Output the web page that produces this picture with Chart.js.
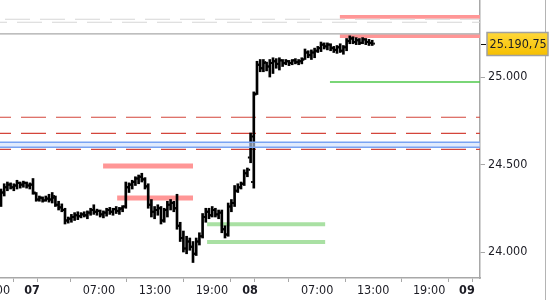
<!DOCTYPE html>
<html>
<head>
<meta charset="utf-8">
<title>Price chart</title>
<script src="https://cdn.jsdelivr.net/npm/chart.js@4.4.1/dist/chart.umd.min.js"></script>
<style>
    html, body { margin: 0; padding: 0; background: #fff; overflow: hidden; }
    #wrap { position: relative; width: 550px; height: 300px; overflow: hidden; }
    #chartBox { position: absolute; left: -20px; top: 0; width: 570px; height: 300px; }
</style>
</head>
<body>
<div id="wrap">
    <div id="chartBox"><canvas id="priceChart" width="570" height="300"></canvas></div>
</div>
<script>
// 20-minute OHLC bars, one per slot (slot index = position on the x axis)
const barOpen = [
    24280, 24340, 24370, 24385, 24370, 24380, 24395, 24385, 24395, 24380,
    24385, 24335, 24300, 24310, 24295, 24305, 24300, 24310, 24270, 24255,
    24240, 24180, 24190, 24200, 24210, 24205, 24215, 24210, 24225, 24240,
    24230, 24235, 24215, 24225, 24240, 24230, 24245, 24235, 24245, 24260,
    24370, 24385, 24400, 24420, 24430, 24415, 24375, 24270, 24230, 24240,
    24250, 24180, 24240, 24270, 24280, 24250, 24150, 24080, 24020, 24060,
    24030, 23990, 24060, 24090, 24200, 24230, 24210, 24240, 24215, 24225,
    24130, 24100, 24260, 24280, 24350, 24370, 24390, 24450, 24540, 24400,
    24905, 25070, 25050, 25080, 25060, 25080, 25090, 25075, 25095, 25080,
    25090, 25080, 25095, 25085, 25090, 25100, 25140, 25125, 25140, 25150,
    25165, 25185, 25175, 25185, 25165, 25155, 25170, 25150, 25170, 25205,
    25220, 25200, 25210, 25195, 25215, 25200, 25195
];
const barHigh = [
    24360, 24390, 24400, 24395, 24390, 24410, 24400, 24405, 24400, 24395,
    24420, 24340, 24320, 24315, 24320, 24330, 24340, 24320, 24290, 24275,
    24250, 24200, 24215, 24225, 24230, 24225, 24230, 24235, 24250, 24270,
    24245, 24240, 24235, 24250, 24255, 24250, 24260, 24255, 24265, 24400,
    24395, 24410, 24430, 24440, 24450, 24425, 24390, 24300, 24260, 24270,
    24260, 24250, 24290, 24300, 24290, 24330, 24170, 24120, 24090, 24080,
    24060, 24080, 24110, 24220, 24250, 24250, 24260, 24250, 24240, 24240,
    24150, 24280, 24300, 24380, 24390, 24400, 24470, 24480, 24680, 24915,
    25090, 25100, 25100, 25085, 25100, 25110, 25105, 25110, 25100, 25100,
    25095, 25100, 25105, 25100, 25110, 25160, 25150, 25155, 25165, 25175,
    25200, 25195, 25195, 25190, 25175, 25180, 25190, 25180, 25220, 25235,
    25230, 25225, 25220, 25225, 25220, 25215, 25210
];
const barLow = [
    24260, 24320, 24350, 24360, 24350, 24360, 24365, 24370, 24365, 24360,
    24330, 24290, 24290, 24285, 24290, 24285, 24280, 24260, 24240, 24230,
    24160, 24165, 24170, 24180, 24185, 24195, 24200, 24190, 24210, 24215,
    24210, 24200, 24195, 24205, 24215, 24210, 24220, 24215, 24230, 24250,
    24340, 24360, 24380, 24390, 24400, 24360, 24250, 24200, 24190, 24210,
    24160, 24170, 24200, 24240, 24230, 24130, 24060, 24000, 23990, 24010,
    23940, 23980, 24040, 24080, 24170, 24190, 24200, 24200, 24190, 24110,
    24080, 24090, 24230, 24260, 24340, 24360, 24380, 24430, 24510, 24365,
    24900, 25030, 25030, 25035, 25000, 25020, 25050, 25040, 25060, 25070,
    25065, 25070, 25075, 25070, 25075, 25100, 25110, 25100, 25110, 25140,
    25145, 25160, 25155, 25150, 25140, 25135, 25140, 25130, 25150, 25190,
    25190, 25185, 25185, 25190, 25185, 25180, 25180
];
const barClose = [
    24340, 24370, 24385, 24370, 24380, 24395, 24385, 24395, 24380, 24385,
    24340, 24300, 24310, 24295, 24305, 24300, 24320, 24270, 24255, 24240,
    24180, 24190, 24200, 24210, 24205, 24215, 24210, 24225, 24240, 24230,
    24235, 24215, 24225, 24240, 24230, 24245, 24235, 24250, 24260, 24370,
    24385, 24400, 24420, 24430, 24415, 24375, 24270, 24230, 24240, 24250,
    24180, 24240, 24270, 24280, 24250, 24150, 24080, 24020, 24060, 24030,
    23990, 24060, 24090, 24200, 24230, 24210, 24240, 24215, 24225, 24130,
    24100, 24260, 24280, 24350, 24370, 24390, 24450, 24470, 24660, 24900,
    25070, 25050, 25085, 25060, 25080, 25090, 25075, 25095, 25080, 25090,
    25080, 25095, 25085, 25090, 25100, 25140, 25125, 25140, 25150, 25165,
    25185, 25175, 25185, 25165, 25155, 25170, 25150, 25170, 25205, 25220,
    25200, 25210, 25195, 25215, 25200, 25195, 25190.75
];

// x axis (in slots)
const xMin = -6.5625;
const xMax = 149.6875;
const xTickPositions = [-2.2, 9.7, 12.8, 30.6, 48.1, 65.9, 77.8, 80.6, 98.8, 116.3, 133.8, 145.6, 148.8];
const xTickLabels = ['19:00', '07', '', '07:00', '13:00', '19:00', '08', '', '07:00', '13:00', '19:00', '09', ''];
const xTickBold = [false, true, false, false, false, false, true, false, false, false, false, true, false];

// y axis
const yMin = 23851.5;
const yMax = 25440;
const yTickValues = [24000, 24500, 25000];

// horizontal levels
const grayDashLevels = [25330, 25313];
const grayDashOffsets = [10, 33];
const grayLineLevel = 25246;
const redDashLevels = [24770, 24678, 24587];
const blueLevels = [24627, 24598];
const pinkLevels = [25344, 25234, 24491, 24309];
const pinkStart = [105.9, 105.9, 31.9, 36.3];
const pinkEnd = [xMax, xMax, 60, 60];
const greenZoneLevels = [24158, 24057];
const greenZoneStart = [64.4, 64.4];
const greenZoneEnd = [101.3, 101.3];
const greenLineLevel = 24971;
const greenLineStart = 102.8;

const fontFamily = '"DejaVu Sans Condensed", "Liberation Sans", sans-serif';
const textColor = '#1c1c24';
const axisColor = '#a8a8a8';

function formatDe(value, decimals) {
    const parts = value.toFixed(decimals).split('.');
    const intPart = parts[0].replace(/\B(?=(\d{3})+(?!\d))/g, '.');
    return parts.length > 1 ? intPart + ',' + parts[1] : intPart;
}

function levelLine(y, x0, x1, color, width, extra) {
    return Object.assign({
        type: 'line',
        data: [{ x: x0, y: y }, { x: x1, y: y }],
        borderColor: color,
        borderWidth: width,
        borderCapStyle: 'butt',
        pointRadius: 0,
        fill: false,
        order: 5
    }, extra || {});
}

const datasets = [];

// price bars: high-low stems
datasets.push({
    type: 'bar',
    data: barLow.map((low, i) => ({ x: i, y: [low, barHigh[i]] })),
    backgroundColor: '#000',
    borderWidth: 0,
    barThickness: 2,
    grouped: false,
    order: 1
});

grayDashLevels.forEach((lvl, i) => {
    datasets.push(levelLine(lvl, xMin, xMax, '#d6d6d6', 1.2, { borderDash: [25, 10], borderDashOffset: grayDashOffsets[i] }));
});
datasets.push(levelLine(grayLineLevel, xMin, xMax, '#a9a9a9', 1.2));

pinkLevels.forEach((lvl, i) => {
    datasets.push(levelLine(lvl, pinkStart[i], pinkEnd[i], '#ff9696', i < 2 ? 3.8 : 5));
});

redDashLevels.forEach(lvl => {
    datasets.push(levelLine(lvl, xMin, xMax, '#d4453b', 1.2, { borderDash: [25, 10], borderDashOffset: 29 }));
});

const blueFirstIndex = datasets.length;
datasets.push(levelLine(blueLevels[0], xMin, xMax, '#7aa3f2', 1.5, { order: 0 }));
datasets.push(levelLine(blueLevels[1], xMin, xMax, '#7aa3f2', 1.5, {
    order: 0,
    fill: blueFirstIndex,
    backgroundColor: 'rgba(205, 222, 252, 0.6)'
}));

greenZoneLevels.forEach((lvl, i) => {
    datasets.push(levelLine(lvl, greenZoneStart[i], greenZoneEnd[i], '#a9e0a3', 4));
});
datasets.push(levelLine(greenLineLevel, greenLineStart, xMax, '#4ec84a', 1.5));

// open / close ticks on each bar
const ohlcTicks = {
    id: 'ohlcTicks',
    afterDatasetsDraw(chart) {
        const xs = chart.scales.x;
        const ys = chart.scales.y;
        const ctx = chart.ctx;
        const area = chart.chartArea;
        ctx.save();
        ctx.beginPath();
        ctx.rect(area.left, area.top, area.right - area.left, area.bottom - area.top);
        ctx.clip();
        ctx.fillStyle = '#000';
        barOpen.forEach((open, i) => {
            const cx = xs.getPixelForValue(i);
            ctx.fillRect(cx - 2.7, ys.getPixelForValue(open) - 1, 1.7, 2);
            ctx.fillRect(cx + 1, ys.getPixelForValue(barClose[i]) - 1, 1.7, 2);
        });
        ctx.restore();
    }
};

// last price box and right border
const lastPrice = {
    id: 'lastPrice',
    afterDraw(chart) {
        const ctx = chart.ctx;
        const area = chart.chartArea;
        const ys = chart.scales.y;
        const price = barClose[barClose.length - 1];
        const py = Math.round(ys.getPixelForValue(price));

        ctx.save();
        ctx.strokeStyle = '#b4b4b4';
        ctx.lineWidth = 1;
        ctx.beginPath();
        ctx.moveTo(565.5, 0);
        ctx.lineTo(565.5, chart.height);
        ctx.stroke();

        ctx.strokeStyle = '#111';
        ctx.beginPath();
        ctx.moveTo(area.right + 1, py + 0.5);
        ctx.lineTo(area.right + 6, py + 0.5);
        ctx.stroke();

        const bx = area.right + 7;
        const bw = 61;
        const bh = 23;
        const grad = ctx.createLinearGradient(0, py - bh / 2, 0, py + bh / 2);
        grad.addColorStop(0, '#ffd83a');
        grad.addColorStop(1, '#f6bf00');
        ctx.fillStyle = grad;
        ctx.fillRect(bx, py - bh / 2, bw, bh);
        ctx.strokeStyle = '#a0a0a0';
        ctx.lineWidth = 1.5;
        ctx.strokeRect(bx, py - bh / 2, bw, bh);

        ctx.fillStyle = textColor;
        ctx.font = '12.5px ' + fontFamily;
        ctx.textBaseline = 'middle';
        ctx.textAlign = 'left';
        ctx.fillText(formatDe(price, 2), bx + 2.5, py + 1);
        ctx.restore();
    }
};

new Chart(document.getElementById('priceChart'), {
    type: 'bar',
    data: { datasets: datasets },
    options: {
        responsive: false,
        animation: false,
        devicePixelRatio: 1,
        layout: { padding: 0 },
        plugins: {
            legend: { display: false },
            tooltip: { enabled: false }
        },
        scales: {
            x: {
                type: 'linear',
                min: xMin,
                max: xMax,
                offset: false,
                grid: { drawOnChartArea: false, drawTicks: true, tickLength: 4, tickColor: axisColor },
                border: { color: axisColor, width: 1.5 },
                afterBuildTicks: (scale) => {
                    scale.ticks = xTickPositions.map(v => ({ value: v }));
                },
                afterFit: (scale) => {
                    scale.height = 22;
                    scale.paddingLeft = 0;
                    scale.paddingRight = 0;
                },
                ticks: {
                    autoSkip: false,
                    maxRotation: 0,
                    padding: 1,
                    color: textColor,
                    font: (ctx) => ({
                        family: fontFamily,
                        size: 12.5,
                        weight: xTickBold[ctx.index] ? 'bold' : 'normal'
                    }),
                    callback: (value, index) => xTickLabels[index]
                }
            },
            y: {
                type: 'linear',
                position: 'right',
                min: yMin,
                max: yMax,
                grid: { drawOnChartArea: false, drawTicks: true, tickLength: 5, tickColor: axisColor },
                border: { color: axisColor, width: 1.5 },
                afterBuildTicks: (scale) => {
                    scale.ticks = yTickValues.map(v => ({ value: v }));
                },
                afterFit: (scale) => {
                    scale.width = 70;
                    scale.paddingTop = 0;
                    scale.paddingBottom = 0;
                },
                ticks: {
                    padding: 3,
                    color: textColor,
                    font: { family: fontFamily, size: 12.5 },
                    callback: (value) => formatDe(value, 0)
                }
            }
        }
    },
    plugins: [ohlcTicks, lastPrice]
});
</script>
</body>
</html>
